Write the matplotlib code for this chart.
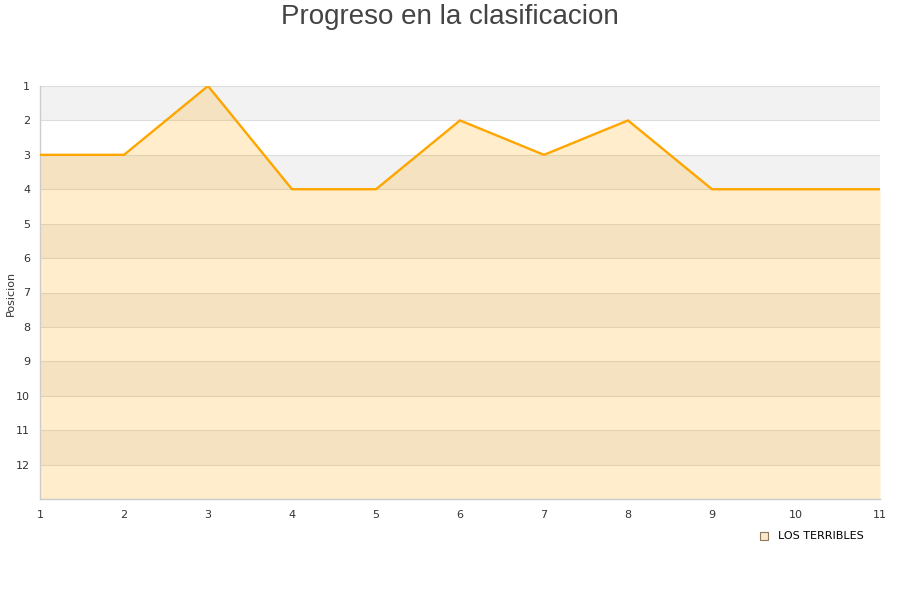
import matplotlib
matplotlib.use("Agg")
import matplotlib.pyplot as plt

jornadas = [1, 2, 3, 4, 5, 6, 7, 8, 9, 10, 11]
posicion = [3, 3, 1, 4, 4, 2, 3, 2, 4, 4, 4]
equipo = "LOS TERRIBLES"
y_ticks = list(range(1, 13))

fig = plt.figure(figsize=(9, 6), dpi=100)
ax = fig.add_axes([40 / 900, 101 / 600, 840 / 900, 413 / 600])

ymin, ymax = 1, 13
ax.set_xlim(jornadas[0], jornadas[-1])
ax.set_ylim(ymax, ymin)

# alternating horizontal bands
for k in range(ymin, ymax):
    if (k - ymin) % 2 == 0:
        ax.axhspan(k, k + 1, color="#f2f2f2", lw=0, zorder=0)
for k in range(ymin, ymax + 1):
    ax.axhline(k, color="#dddddd", lw=0.8, zorder=1)

ax.fill_between(jornadas, posicion, ymax, color="#ffa500", alpha=0.2, lw=0, zorder=2)
ax.plot(jornadas, posicion, color="#ffa500", lw=1.7, zorder=3)

ax.set_xticks(jornadas)
ax.set_yticks(y_ticks)
ax.tick_params(axis="both", length=0, labelsize=8, colors="#333333")
ax.tick_params(axis="x", pad=8)
ax.tick_params(axis="y", pad=7)

for side in ("top", "right"):
    ax.spines[side].set_visible(False)
for side in ("left", "bottom"):
    ax.spines[side].set_color("#cccccc")
    ax.spines[side].set_linewidth(1)

fig.text(11 / 900, 1 - 293 / 600, "Posicion", rotation=90, ha="center", va="center",
         fontsize=8, color="#333333")

fig.text(0.5, 1 - 17 / 600, "Progreso en la clasificacion", ha="center", va="center",
         fontsize=20, color="#444444", family="Liberation Sans")

# legend entry
fig.patches.append(plt.Rectangle((760 / 900, 1 - 540 / 600), 8 / 900, 8 / 600,
                                 transform=fig.transFigure, facecolor="#fde9c7",
                                 edgecolor="#8a7a60", lw=0.8))
fig.text(778 / 900, 1 - 536 / 600, equipo, ha="left", va="center",
         fontsize=8, color="#000000")

fig.savefig("out.png", dpi=100)
